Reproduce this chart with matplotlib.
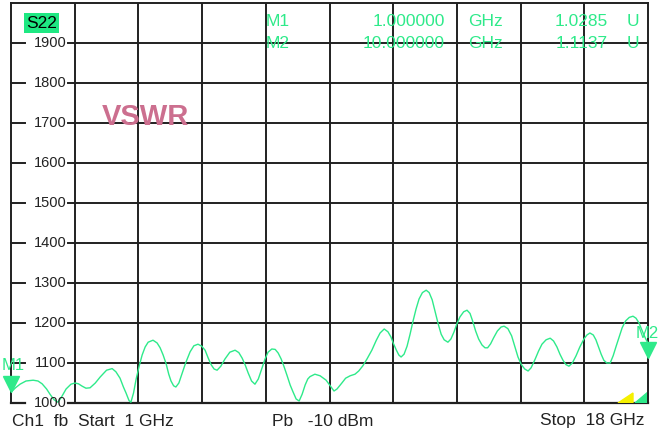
import matplotlib
matplotlib.use("Agg")
import matplotlib.pyplot as plt
import matplotlib.transforms as mtransforms
from matplotlib.patches import Polygon

# trace (GHz, VSWR x1000)
freq = [1.00, 1.12, 1.24, 1.40, 1.59, 1.72, 1.83, 1.95, 2.04, 2.15,
        2.25, 2.33, 2.47, 2.60, 2.71, 2.80, 2.90, 3.00, 3.11, 3.25,
        3.38, 3.55, 3.70, 3.80, 3.91, 4.00, 4.07, 4.15, 4.20, 4.27,
        4.34, 4.42, 4.50, 4.58, 4.66, 4.79, 4.90, 4.98, 5.06, 5.14,
        5.21, 5.27, 5.34, 5.40, 5.48, 5.56, 5.66, 5.78, 5.88, 5.99,
        6.09, 6.18, 6.26, 6.34, 6.42, 6.50, 6.60, 6.71, 6.84, 6.98,
        7.08, 7.17, 7.25, 7.33, 7.42, 7.51, 7.60, 7.70, 7.78, 7.86,
        7.96, 8.05, 8.13, 8.21, 8.29, 8.37, 8.45, 8.53, 8.61, 8.69,
        8.77, 8.85, 8.92, 8.98, 9.11, 9.25, 9.41, 9.52, 9.62, 9.70,
        9.83, 9.93, 10.05, 10.18, 10.28, 10.39, 10.50, 10.63, 10.75, 10.85,
        10.96, 11.06, 11.14, 11.20, 11.28, 11.35, 11.41, 11.49, 11.57, 11.65,
        11.73, 11.81, 11.89, 11.98, 12.08, 12.16, 12.24, 12.32, 12.40, 12.48,
        12.56, 12.66, 12.74, 12.82, 12.90, 12.98, 13.08, 13.17, 13.25, 13.32,
        13.40, 13.48, 13.57, 13.65, 13.72, 13.80, 13.88, 13.98, 14.08, 14.16,
        14.26, 14.36, 14.45, 14.53, 14.62, 14.71, 14.80, 14.88, 14.99, 15.08,
        15.17, 15.28, 15.39, 15.48, 15.57, 15.65, 15.73, 15.81, 15.89, 15.98,
        16.08, 16.18, 16.29, 16.37, 16.45, 16.54, 16.61, 16.68, 16.75, 16.82,
        16.90, 16.99, 17.07, 17.15, 17.23, 17.31, 17.40, 17.50, 17.60, 17.68,
        17.76, 17.87, 17.94, 18.00]
vswr = [1027, 1038, 1047, 1055, 1057, 1055, 1048, 1035, 1022, 1008,
        1002, 1012, 1035, 1047, 1050, 1048, 1042, 1037, 1038, 1050,
        1065, 1082, 1086, 1078, 1062, 1040, 1025, 1006, 1002, 1025,
        1060, 1092, 1120, 1140, 1152, 1157, 1150, 1138, 1120, 1098,
        1072, 1055, 1043, 1040, 1050, 1072, 1100, 1128, 1143, 1147,
        1142, 1132, 1113, 1096, 1085, 1082, 1092, 1110, 1127, 1132,
        1126, 1112, 1095, 1075, 1055, 1047, 1060, 1088, 1110, 1127,
        1135, 1134, 1125, 1110, 1090, 1068, 1045, 1027, 1010, 1005,
        1022, 1045, 1060, 1066, 1072, 1068, 1057, 1043, 1030, 1035,
        1050, 1062, 1068, 1072, 1080, 1093, 1110, 1132, 1157, 1175,
        1185, 1178, 1165, 1150, 1133, 1120, 1115, 1122, 1142, 1172,
        1205, 1235, 1260, 1276, 1282, 1276, 1258, 1228, 1198, 1172,
        1158, 1152, 1160, 1177, 1198, 1215, 1228, 1232, 1224, 1205,
        1180, 1160, 1145, 1138, 1138, 1148, 1163, 1180, 1190, 1192,
        1186, 1168, 1140, 1115, 1096, 1085, 1080, 1088, 1110, 1130,
        1147, 1158, 1162, 1155, 1140, 1122, 1107, 1096, 1092, 1100,
        1118, 1140, 1160, 1170, 1175, 1170, 1158, 1140, 1122, 1107,
        1100, 1100, 1118, 1142, 1165, 1188, 1205, 1214, 1217, 1212,
        1200, 1175, 1160, 1150]

y_ticks = [1000, 1100, 1200, 1300, 1400, 1500, 1600, 1700, 1800, 1900]
f_start, f_stop = 1, 18

mk_names = ["M1", "M2"]
mk_freq_txt = ["1.000000", "10.000000"]
mk_val_txt = ["1.0285", "1.1137"]
mk_draw_f = [1.0, 18.0]
mk_draw_v = [1028.5, 1113.7]

GREEN = "#2eea8a"
GRID = "#202020"
W, H = 663, 434

plt.rcParams["font.family"] = ["Liberation Sans", "DejaVu Sans"]
fig = plt.figure(figsize=(W / 100, H / 100), dpi=100)
ax = fig.add_axes([11 / W, (H - 403) / H, 637 / W, 400 / H])
ax.set_xlim(f_start, f_stop)
ax.set_ylim(1000, 2000)
ax.set_xticks([])
ax.set_yticks([])
for s in ["left", "right", "top"]:
    ax.spines[s].set_color(GRID)
    ax.spines[s].set_linewidth(1.4)
ax.spines["bottom"].set_visible(False)

# vertical grid, 10 divisions
step = (f_stop - f_start) / 10
for k in range(1, 10):
    ax.axvline(f_start + k * step, color=GRID, lw=1.4, zorder=1)

# horizontal grid with a gap where the labels sit
bt = mtransforms.blended_transform_factory(ax.transAxes, ax.transData)
for v in y_ticks:
    lw = 1.6 if v == 1000 else 1.4
    ax.plot([0, 14 / 637], [v, v], color=GRID, lw=lw, transform=bt, clip_on=False, zorder=2)
    ax.plot([57 / 637, 1], [v, v], color=GRID, lw=lw, transform=bt, clip_on=False, zorder=2)
    ax.text(56 / 637, v, str(v), transform=bt, ha="right", va="center",
            fontsize=10.5, color="#222222", zorder=4, clip_on=False)

ax.plot(freq, vswr, color=GREEN, lw=1.0, zorder=3)

# marker triangles, tip on the value
ms = 11
tri = mtransforms.offset_copy(ax.transData, fig=fig, y=ms / 2, units="points")
ax.plot(mk_draw_f, mk_draw_v, "v", color=GREEN, ms=ms, transform=tri,
        clip_on=False, zorder=5, mec=GREEN)

# source indicators, bottom right
ax.add_patch(Polygon([(607 / 637, 0), (622 / 637, 10 / 400), (622 / 637, 0)],
                     closed=True, color="#f5f000", transform=ax.transAxes, zorder=2))
ax.add_patch(Polygon([(624 / 637, 0), (1, 11 / 400), (1, 0)],
                     closed=True, color=GREEN, transform=ax.transAxes, zorder=2))


def ftext(x, y, s, **kw):
    fig.text(x / W, 1 - y / H, s, **kw)


ftext(2, 366, mk_names[0], color=GREEN, fontsize=12, va="center", ha="left")
ftext(636, 333, mk_names[1], color=GREEN, fontsize=12, va="center", ha="left")

# marker readouts
for i, yy in enumerate([21, 44]):
    ftext(266, yy, mk_names[i], color=GREEN, fontsize=12.5, va="center", ha="left", zorder=6)
    ftext(445, yy, mk_freq_txt[i], color=GREEN, fontsize=12.5, va="center", ha="right", zorder=6)
    ftext(468, yy, "GHz", color=GREEN, fontsize=12.5, va="center", ha="left", zorder=6)
    ftext(608, yy, mk_val_txt[i], color=GREEN, fontsize=12.5, va="center", ha="right", zorder=6)
    ftext(627, yy, "U", color=GREEN, fontsize=12.5, va="center", ha="left", zorder=6)

ftext(26, 23, "S22", color="black", fontsize=12.5, va="center", ha="left",
      bbox=dict(boxstyle="square,pad=0.12", fc="#1ee882", ec="none"))
ftext(102, 117, "VSWR", color="#cc6f8f", fontsize=21, fontweight="bold", va="center", ha="left")

ftext(12, 421, "Ch1  fb  Start  1 GHz", color="#222222", fontsize=12.5, va="center", ha="left")
ftext(272, 421, "Pb   -10 dBm", color="#222222", fontsize=12.5, va="center", ha="left")
ftext(645, 421, "Stop  18 GHz", color="#222222", fontsize=12.5, va="center", ha="right")

fig.savefig("out.png", dpi=100)
